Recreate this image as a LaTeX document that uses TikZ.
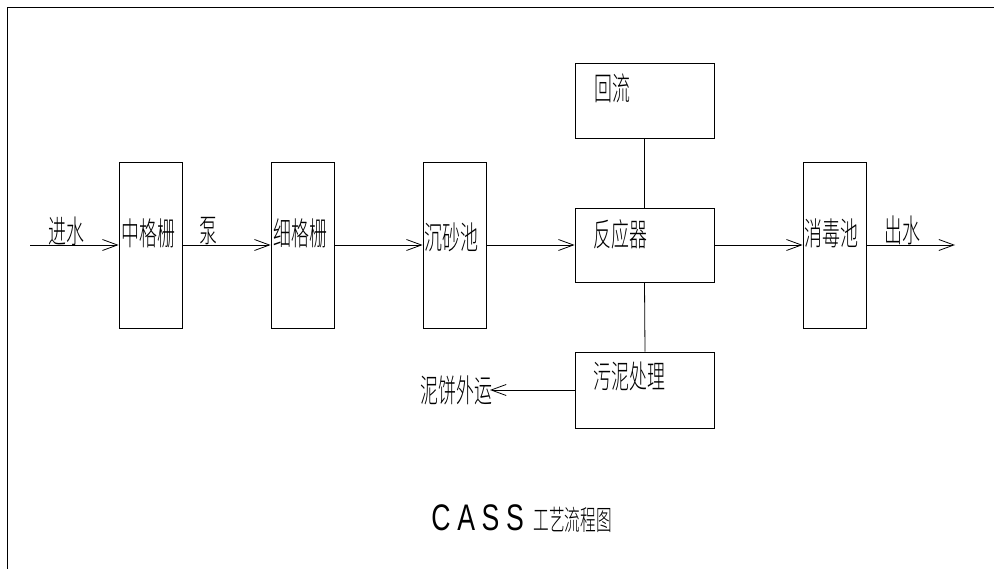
\documentclass[tikz,border=0pt]{standalone}
\usepackage{fontspec}
\newfontfamily\cjk{Noto Sans CJK SC Light}[FakeStretch=0.56]
\newfontfamily\cassfont{Liberation Sans}[FakeStretch=0.72,LetterSpace=18]
\usetikzlibrary{arrows.meta}
\begin{document}
\begin{tikzpicture}[x=1pt,y=-1pt,
  every path/.style={line width=0.8pt},
  box/.style={draw,line width=0.8pt,inner sep=0pt,minimum width=63pt,minimum height=166pt},
  wbox/.style={draw,line width=0.8pt,inner sep=0pt,minimum width=139pt,minimum height=75pt},
  lbl/.style={inner sep=0pt,font=\cjk\fontsize{32}{32}\selectfont},
  flow/.style={-{Straight Barb[length=15pt,width=11pt,line width=0.8pt]}}]
\useasboundingbox (0,0) rectangle (994,569);
\draw (7,569) -- (7,7) -- (994,7);
% tall boxes
\node[box] (b1) at (150.5,245) {};
\node[box] (b2) at (302.5,245) {};
\node[box] (b3) at (454.5,245) {};
\node[box] (b4) at (834.5,245) {};
% wide boxes
\node[wbox] (reflux) at (644.5,101) {};
\node[wbox,minimum height=74pt] (reactor) at (644.5,245) {};
\node[wbox,minimum height=76pt] (sludge) at (645,390) {};
% labels in boxes
\node[lbl,anchor=west] (t1) at (121,233) {中格栅};
\node[lbl,anchor=west] (t2) at (273,233) {细格栅};
\node[lbl,anchor=west] (t3) at (424,237) {沉砂池};
\node[lbl,anchor=west] (t4) at (804,233) {消毒池};
\node[lbl,anchor=west] (t5) at (594,88) {回流};
\node[lbl,anchor=west] (t6) at (593,234) {反应器};
\node[lbl,anchor=west] (t7) at (593,376) {污泥处理};
% free labels
\node[lbl] (tin) at (66,231) {进水};
\node[lbl] (tpump) at (208,231) {泵};
\node[lbl] (tout) at (902,230) {出水};
\node[lbl,anchor=west] (tcake) at (420,390) {泥饼外运};
% connectors
\coordinate (in) at (30,245);
\coordinate (out) at (955,245);
\coordinate (cake) at (490,390);
\draw[flow] (in) -- (b1.west);
\draw[flow] (b1.east) -- (b2.west);
\draw[flow] (b2.east) -- (b3.west);
\draw[flow] (b3.east) -- (reactor.west);
\draw[flow] (reactor.east) -- (b4.west);
\draw[flow] (b4.east) -- (out);
\draw (reflux.south) -- (reactor.north);
\draw (reactor.south) -- (sludge.north);
\draw[flow] (sludge.west) -- (cake);
% title
\node[inner sep=0pt,anchor=west,font=\cassfont\fontsize{37}{37}\selectfont] (tcass) at (431,518) {CASS};
\node[lbl,anchor=west,font=\cjk\fontsize{28}{28}\selectfont] (ttitle) at (533,520) {工艺流程图};
\end{tikzpicture}
\end{document}
